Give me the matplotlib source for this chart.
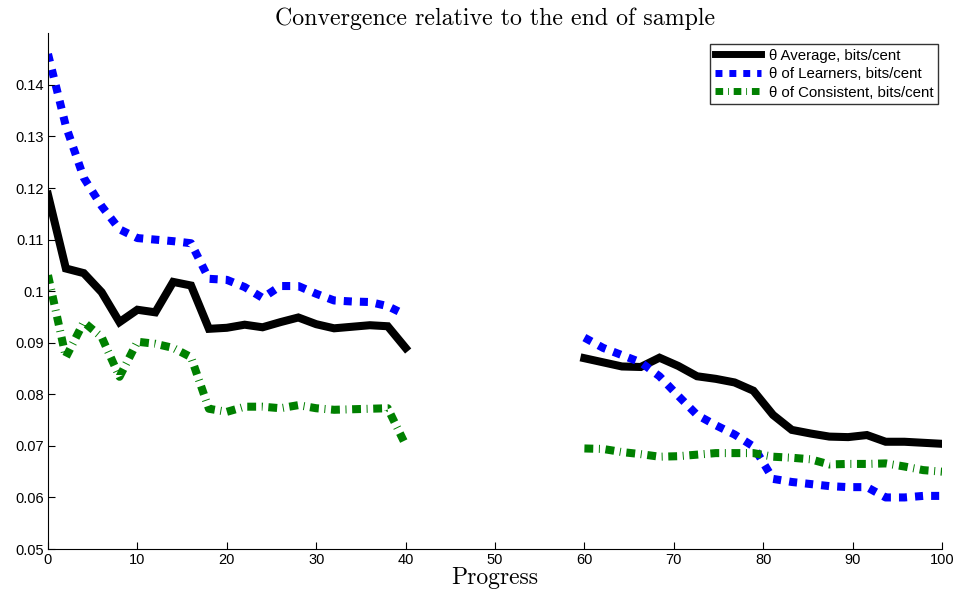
import numpy as np
import matplotlib
matplotlib.use("Agg")
import matplotlib.pyplot as plt

x_left = [0, 2, 4, 6, 8, 10, 12, 14, 16, 18, 20, 22, 24, 26, 28, 30, 32, 34, 36, 38, 40]
avg_left = [0.1187, 0.1044, 0.1035, 0.0998, 0.0940, 0.0964, 0.0959, 0.1018, 0.1011, 0.0927, 0.0929,
            0.0935, 0.0930, 0.0940, 0.0949, 0.0936, 0.0928, 0.0931, 0.0934, 0.0932, 0.0890]
learn_left = [0.1460, 0.1320, 0.1220, 0.1165, 0.1120, 0.1103, 0.1100, 0.1097, 0.1093, 0.1024, 0.1022,
              0.1008, 0.0987, 0.1010, 0.1010, 0.0995, 0.0982, 0.0980, 0.0979, 0.0971, 0.0954]
cons_left = [0.1031, 0.0872, 0.0940, 0.0911, 0.0834, 0.0902, 0.0898, 0.0890, 0.0872, 0.0772, 0.0766,
             0.0776, 0.0776, 0.0773, 0.0779, 0.0773, 0.0770, 0.0771, 0.0772, 0.0773, 0.0702]

x_right = [60.0, 62.1, 64.2, 66.3, 68.4, 70.5, 72.6, 74.7, 76.8, 78.9,
           81.1, 83.2, 85.3, 87.4, 89.5, 91.6, 93.7, 95.8, 97.9, 100.0]
avg_right = [0.0870, 0.0862, 0.0854, 0.0853, 0.0871, 0.0855, 0.0835, 0.0830, 0.0823, 0.0807,
             0.0760, 0.0731, 0.0724, 0.0718, 0.0717, 0.0721, 0.0708, 0.0708, 0.0706, 0.0704]
learn_right = [0.0910, 0.0890, 0.0876, 0.0862, 0.0835, 0.0797, 0.0760, 0.0740, 0.0722, 0.0699,
               0.0636, 0.0630, 0.0626, 0.0622, 0.0620, 0.0620, 0.0600, 0.0600, 0.0603, 0.0603]
cons_right = [0.0695, 0.0694, 0.0688, 0.0684, 0.0679, 0.0680, 0.0683, 0.0686, 0.0686, 0.0686,
              0.0679, 0.0677, 0.0674, 0.0664, 0.0665, 0.0665, 0.0666, 0.0660, 0.0653, 0.0650]

labels = ["θ Average, bits/cent", "θ of Learners, bits/cent", "θ of Consistent, bits/cent"]
xticks = [0, 10, 20, 30, 40, 50, 60, 70, 80, 90, 100]
yticks = [0.05, 0.06, 0.07, 0.08, 0.09, 0.1, 0.11, 0.12, 0.13, 0.14]
ytick_labels = ["0.05", "0.06", "0.07", "0.08", "0.09", "0.1", "0.11", "0.12", "0.13", "0.14"]

x_all = x_left + [np.nan] + x_right
avg = avg_left + [np.nan] + avg_right
learn = learn_left + [np.nan] + learn_right
cons = cons_left + [np.nan] + cons_right

plt.rcParams['font.family'] = ['Liberation Sans', 'DejaVu Sans']

fig = plt.figure(figsize=(9.6, 6.01), dpi=100)
ax = fig.add_axes([0.05, 0.0865, 0.93125, 0.858])

lw = 5.8
ax.plot(x_all, avg, color='black', lw=lw, solid_joinstyle='miter', label=labels[0])
ax.plot(x_all, learn, color='#0000ff', lw=lw, linestyle=(0, (1.0, 1.0)), label=labels[1])
ax.plot(x_all, cons, color='#008000', lw=lw, linestyle=(0, (1.1, 0.7, 0.12, 0.7)), label=labels[2])

ax.set_xlim(0, 100)
ax.set_ylim(0.05, 0.15)
ax.set_xticks(xticks)
ax.set_yticks(yticks)
ax.set_yticklabels(ytick_labels)
ax.tick_params(direction='in', length=5, labelsize=10.5, top=False, right=False, pad=3)
ax.spines['top'].set_visible(False)
ax.spines['right'].set_visible(False)

ax.set_title("Convergence relative to the end of sample", family='cmr10', fontsize=17.2, pad=6)
ax.set_xlabel("Progress", family='cmr10', fontsize=17, labelpad=0)

leg = ax.legend(loc='upper right', bbox_to_anchor=(0.9985, 0.985), fontsize=10.8, frameon=True,
                fancybox=False, edgecolor='black', handlelength=3.1, borderpad=0.3,
                labelspacing=0.3, handletextpad=0.5, borderaxespad=0.2)
leg.get_frame().set_linewidth(1.0)
for h in leg.get_lines():
    h.set_linewidth(5.0)

fig.savefig("out.png", dpi=100)
